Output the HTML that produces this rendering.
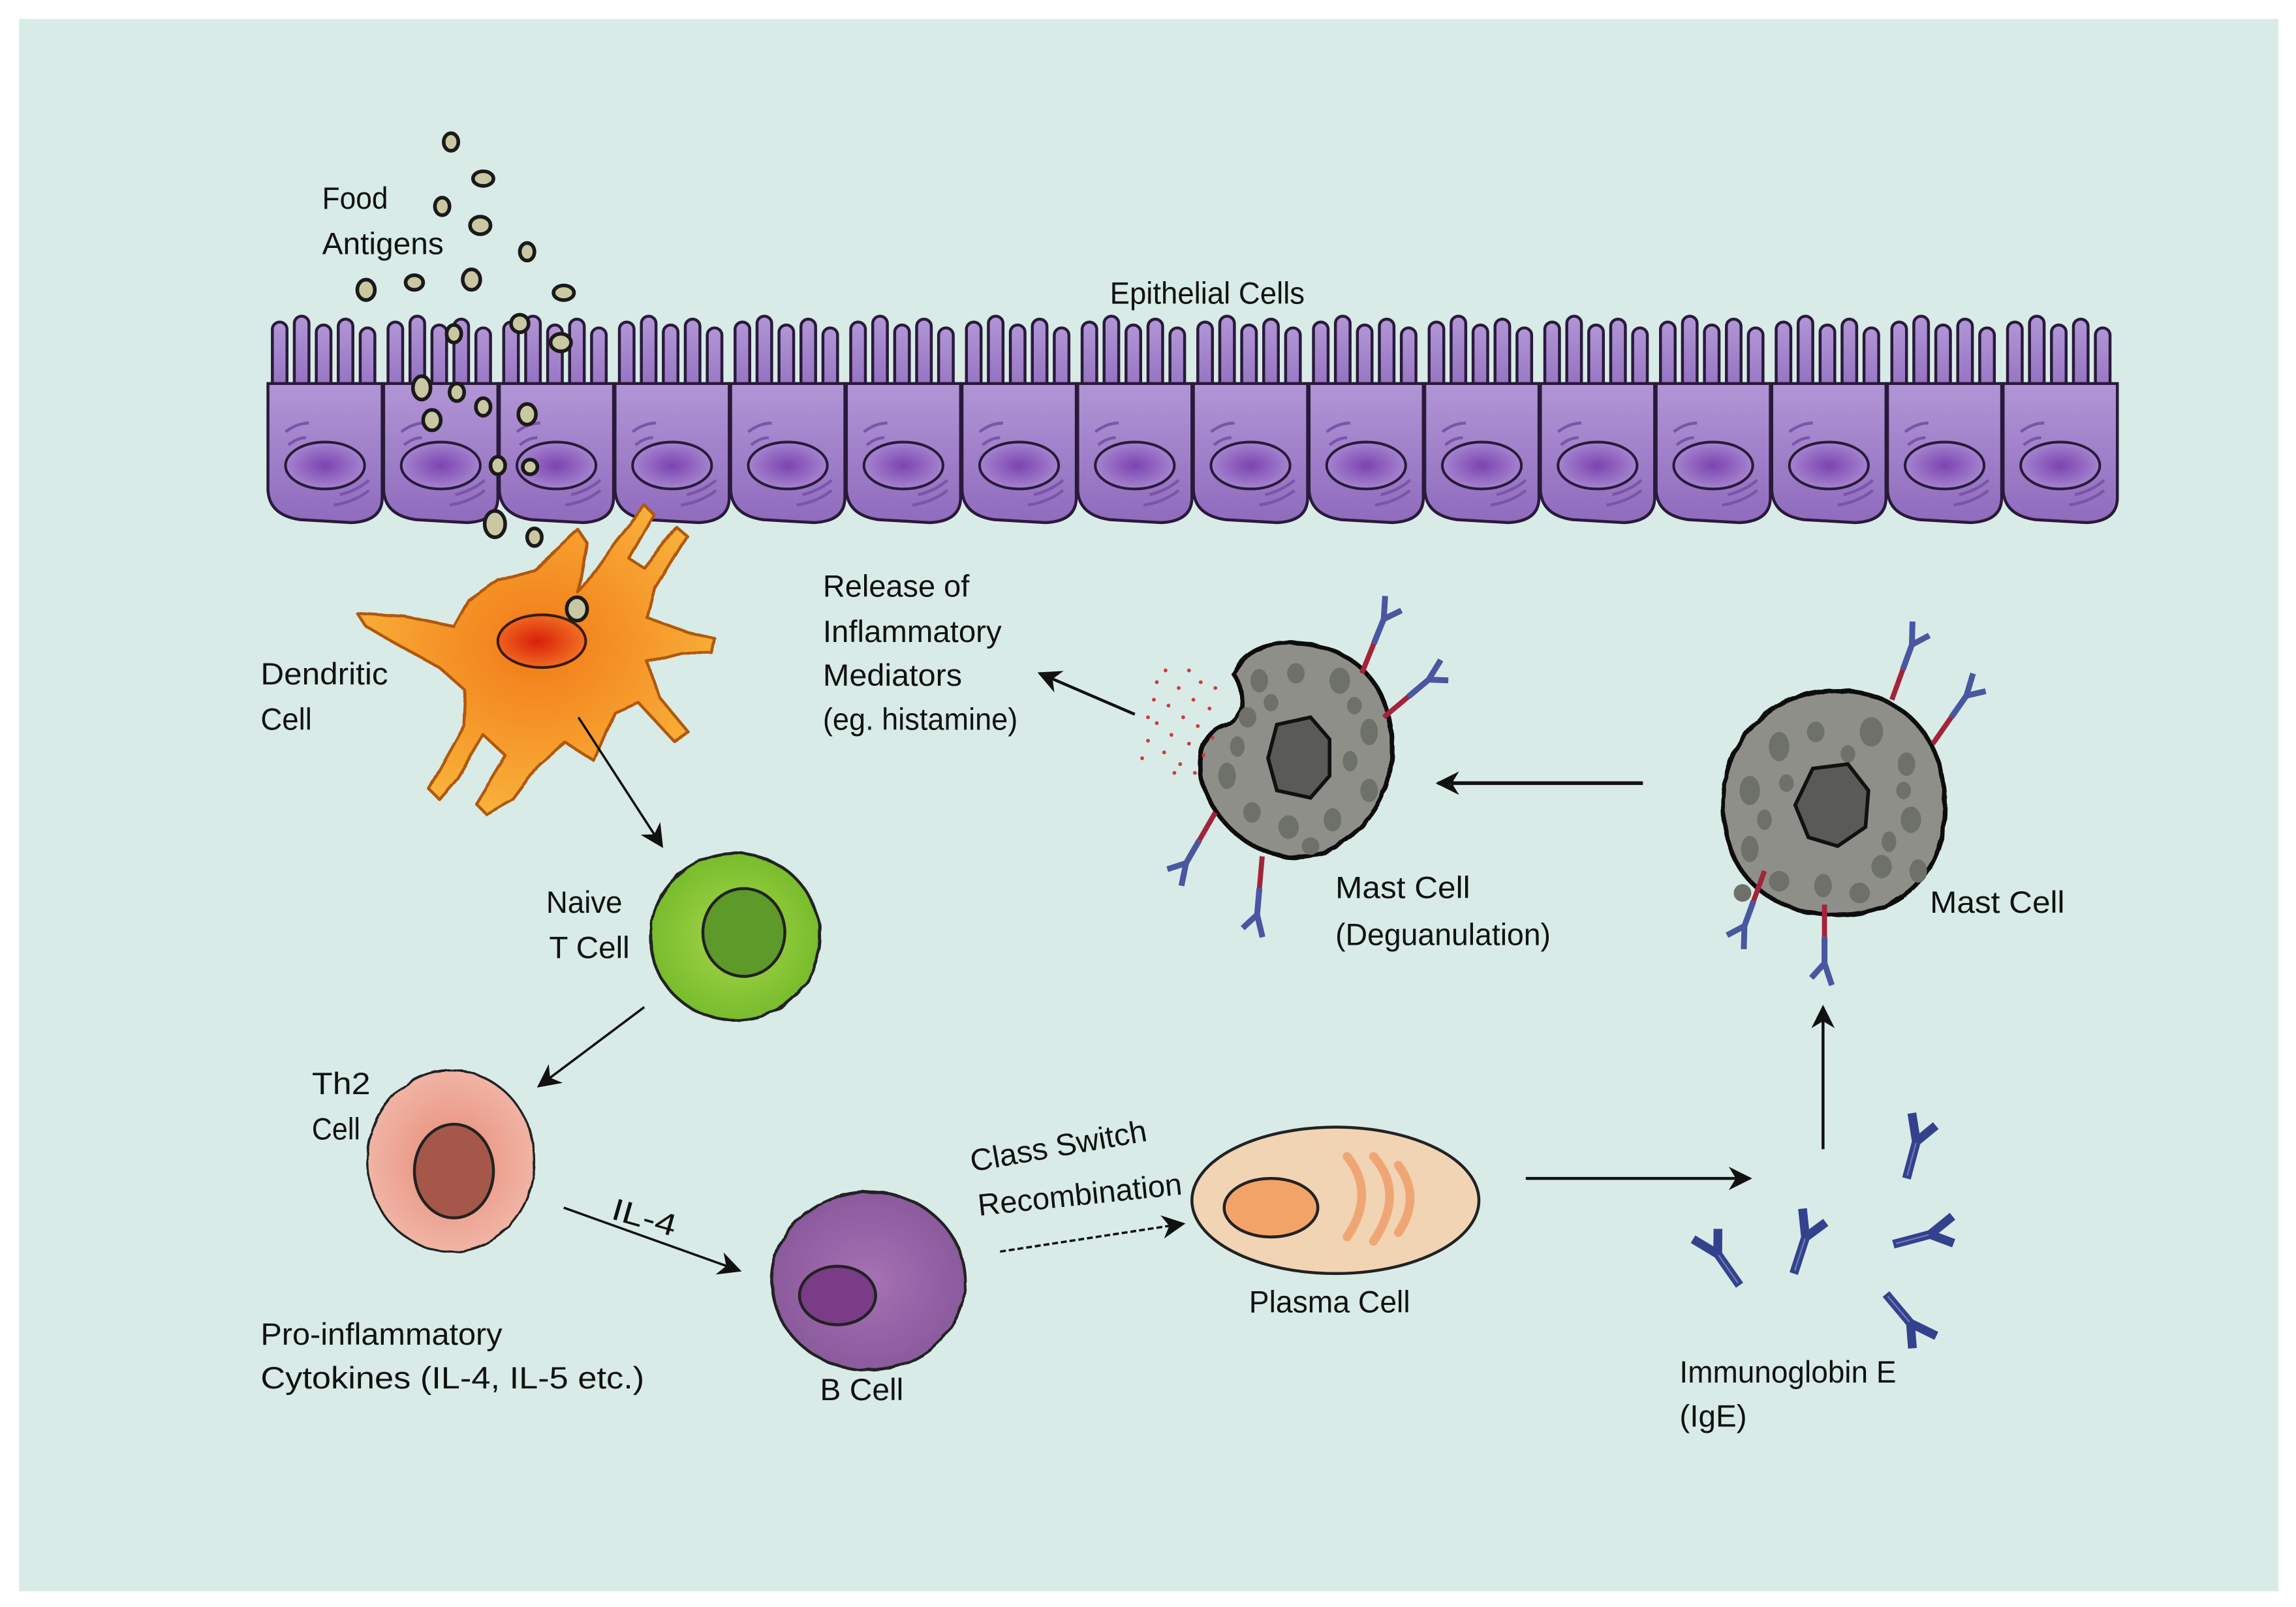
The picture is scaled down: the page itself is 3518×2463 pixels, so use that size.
<!DOCTYPE html>
<html><head><meta charset="utf-8"><style>
html,body{margin:0;padding:0;background:#fff;}
svg{display:block;}
text{font-family:"Liberation Sans",sans-serif;font-size:21px;fill:#111;}
</style></head><body>
<svg width="3518" height="2463" viewBox="0 0 1568 1097.8" preserveAspectRatio="none" xmlns="http://www.w3.org/2000/svg">
<defs>
<filter id="rough" x="-10%" y="-10%" width="120%" height="120%">
<feTurbulence type="fractalNoise" baseFrequency="0.08" numOctaves="2" seed="3"/>
<feDisplacementMap in="SourceGraphic" scale="2.5"/>
</filter>
<filter id="rough2" x="-10%" y="-10%" width="120%" height="120%">
<feTurbulence type="fractalNoise" baseFrequency="0.05" numOctaves="1" seed="5"/>
<feDisplacementMap in="SourceGraphic" scale="3"/>
</filter>
<linearGradient id="epi" x1="0" y1="0" x2="0" y2="1">
<stop offset="0" stop-color="#b196d6"/><stop offset="1" stop-color="#8f6bbd"/>
</linearGradient>
<radialGradient id="nuc" cx="0.5" cy="0.5" r="0.5">
<stop offset="0" stop-color="#7b44b0"/><stop offset="1" stop-color="#a584cf"/>
</radialGradient>
<radialGradient id="dc" cx="0.5" cy="0.45" r="0.55">
<stop offset="0" stop-color="#f27a18"/><stop offset="1" stop-color="#f8b13a"/>
</radialGradient>
<radialGradient id="dcn" cx="0.45" cy="0.5" r="0.5">
<stop offset="0" stop-color="#d8200a"/><stop offset="1" stop-color="#f06a20"/>
</radialGradient>
<radialGradient id="tg" cx="0.5" cy="0.5" r="0.5">
<stop offset="0" stop-color="#a6d84a"/><stop offset="1" stop-color="#78bc2c"/>
</radialGradient>
<radialGradient id="th" cx="0.5" cy="0.5" r="0.5">
<stop offset="0" stop-color="#e88a78"/><stop offset="1" stop-color="#f0b4a4"/>
</radialGradient>
<radialGradient id="bc" cx="0.5" cy="0.5" r="0.5">
<stop offset="0" stop-color="#a672b4"/><stop offset="1" stop-color="#8a5a9c"/>
</radialGradient>
<marker id="ahb" viewBox="0 0 10 10" refX="9" refY="5" markerWidth="16" markerHeight="16" orient="auto" markerUnits="userSpaceOnUse">
<path d="M0,0 L10,5 L0,10 L3,5 Z" fill="#111"/>
</marker>
<g id="ab">
<line x1="0" y1="0" x2="0" y2="-26" stroke="#34418c" stroke-width="6"/>
<line x1="0" y1="-2" x2="0" y2="-25" stroke="#6f7bb8" stroke-width="1"/>
<line x1="0" y1="-26" x2="-8" y2="-44" stroke="#34418c" stroke-width="6"/>
<line x1="0" y1="-26" x2="10" y2="-40" stroke="#34418c" stroke-width="6"/>
</g>
<g id="abm">
<line x1="0" y1="0" x2="0" y2="-22" stroke="#a3243a" stroke-width="3.5"/>
<line x1="0" y1="-22" x2="0" y2="-40" stroke="#4a56a0" stroke-width="4"/>
<line x1="0" y1="-40" x2="-5" y2="-55" stroke="#4a56a0" stroke-width="4"/>
<line x1="0" y1="-40" x2="9" y2="-50" stroke="#4a56a0" stroke-width="4"/>
</g>
</defs>

<rect x="13" y="13" width="1543" height="1074" fill="#d8ebe7"/>

<!-- epithelial cells -->
<g stroke="#2a1a3a" stroke-width="2" fill="url(#epi)">
<g id="ec">
<rect x="186" y="220" width="10" height="55" rx="5"/>
<rect x="201" y="216" width="10" height="55" rx="5"/>
<rect x="216" y="222" width="10" height="55" rx="5"/>
<rect x="231" y="218" width="10" height="55" rx="5"/>
<rect x="246" y="224" width="10" height="55" rx="5"/>
<path d="M183,262 L183,335 Q184,352 205,355 L240,357 Q261,356 261,340 L261,262 Z"/>
<ellipse cx="222" cy="318" rx="27" ry="16" fill="url(#nuc)" stroke-width="1.8"/>
<path d="M195,295 q8,-6 16,-6 M197,304 q6,-5 12,-5 M228,345 q14,-2 24,-10 M232,338 q12,-3 20,-10" fill="none" stroke="#7a55a8" stroke-width="2"/>
</g>
<use href="#ec" x="79"/><use href="#ec" x="158"/><use href="#ec" x="237"/><use href="#ec" x="316"/>
<use href="#ec" x="395"/><use href="#ec" x="474"/><use href="#ec" x="553"/><use href="#ec" x="632"/>
<use href="#ec" x="711"/><use href="#ec" x="790"/><use href="#ec" x="869"/><use href="#ec" x="948"/>
<use href="#ec" x="1027"/><use href="#ec" x="1106"/><use href="#ec" x="1185"/>
</g>

<!-- food antigens -->
<g fill="#c9c8a2" stroke="#1a1a1a" stroke-width="2.5">
<ellipse cx="308" cy="97" rx="5" ry="6"/><ellipse cx="330" cy="122" rx="7" ry="5"/>
<ellipse cx="302" cy="141" rx="5" ry="6"/><ellipse cx="328" cy="154" rx="7" ry="6"/>
<ellipse cx="360" cy="172" rx="5" ry="6"/><ellipse cx="250" cy="198" rx="6" ry="7"/>
<ellipse cx="283" cy="193" rx="6" ry="5"/><ellipse cx="322" cy="191" rx="6" ry="7"/>
<ellipse cx="385" cy="200" rx="7" ry="5"/><ellipse cx="310" cy="228" rx="5" ry="6"/>
<ellipse cx="355" cy="221" rx="6" ry="6"/><ellipse cx="383" cy="234" rx="7" ry="6"/>
<ellipse cx="288" cy="265" rx="6" ry="8"/><ellipse cx="312" cy="268" rx="5" ry="6"/>
<ellipse cx="295" cy="287" rx="6" ry="7"/><ellipse cx="330" cy="278" rx="5" ry="6"/>
<ellipse cx="360" cy="283" rx="6" ry="7"/><ellipse cx="340" cy="318" rx="5" ry="6"/>
<ellipse cx="362" cy="319" rx="5" ry="5"/><ellipse cx="338" cy="358" rx="7" ry="9"/>
<ellipse cx="365" cy="367" rx="5" ry="6"/>
</g>

<!-- dendritic cell -->
<path filter="url(#rough2)" d="M395,405 L420,370 L440,345 L447,352 L430,382 L440,388 L462,360 L469,366 L447,402 L442,422 L470,432 L488,436 L486,446 L465,446 L442,452 L450,476 L470,500 L460,506 L436,480 L420,487 L406,520 L386,507 L368,522 L350,546 L332,556 L325,549 L345,516 L330,502 L312,532 L300,546 L293,539 L317,496 L318,472 L300,456 L275,442 L250,428 L244,419 L276,421 L310,428 L320,410 L340,396 L365,389 L380,376 L395,362 L401,371 Z" fill="url(#dc)" stroke="#b0580c" stroke-width="2" stroke-linejoin="round"/>
<ellipse cx="370" cy="438" rx="30" ry="18" fill="url(#dcn)" stroke="#3a1a0a" stroke-width="1.8"/>
<ellipse cx="394" cy="416" rx="7" ry="8" fill="#c9c8a2" stroke="#1a1a1a" stroke-width="2.5"/>

<!-- naive T -->
<ellipse cx="502" cy="640" rx="58" ry="57" fill="url(#tg)" stroke="#222" stroke-width="2" filter="url(#rough)"/>
<ellipse cx="508" cy="637" rx="28" ry="30" fill="#5e9a2a" stroke="#222" stroke-width="2"/>

<!-- Th2 -->
<ellipse cx="308" cy="793" rx="57" ry="62" fill="url(#th)" stroke="#222" stroke-width="1.5" filter="url(#rough)"/>
<ellipse cx="310" cy="800" rx="27" ry="32" fill="#a5584a" stroke="#222" stroke-width="2"/>

<!-- B cell -->
<ellipse cx="593" cy="875" rx="66" ry="61" fill="url(#bc)" stroke="#222" stroke-width="2" filter="url(#rough)"/>
<ellipse cx="572" cy="885" rx="26" ry="20" fill="#7a3c86" stroke="#222" stroke-width="2"/>

<!-- Plasma cell -->
<ellipse cx="912" cy="820" rx="98" ry="50" fill="#f0d4b4" stroke="#222" stroke-width="2"/>
<ellipse cx="868" cy="825" rx="32" ry="20" fill="#f2a468" stroke="#222" stroke-width="2"/>
<g fill="none" stroke="#f0a674" stroke-width="6" stroke-linecap="round">
<path d="M920,790 q20,25 0,55"/><path d="M938,790 q22,25 0,58"/><path d="M955,796 q16,22 0,46"/>
</g>

<!-- mast cell right -->
<g filter="url(#rough)">
<path d="M1255,472 C1300,472 1328,505 1328,548 C1330,595 1300,625 1255,625 C1210,625 1177,598 1177,552 C1176,510 1205,472 1255,472 Z" fill="#8e8f89" stroke="#111" stroke-width="3"/>
</g>
<g fill="#6e706a">
<ellipse cx="1215" cy="510" rx="7" ry="10"/><ellipse cx="1240" cy="500" rx="6" ry="7"/><ellipse cx="1278" cy="500" rx="8" ry="10"/>
<ellipse cx="1302" cy="522" rx="6" ry="8"/><ellipse cx="1195" cy="540" rx="7" ry="10"/><ellipse cx="1220" cy="535" rx="5" ry="6"/>
<ellipse cx="1305" cy="560" rx="7" ry="9"/><ellipse cx="1285" cy="592" rx="7" ry="8"/><ellipse cx="1195" cy="580" rx="6" ry="9"/>
<ellipse cx="1215" cy="602" rx="7" ry="7"/><ellipse cx="1245" cy="605" rx="6" ry="8"/><ellipse cx="1270" cy="610" rx="7" ry="7"/>
<ellipse cx="1300" cy="540" rx="5" ry="6"/><ellipse cx="1190" cy="610" rx="6" ry="6"/><ellipse cx="1262" cy="515" rx="5" ry="6"/>
<ellipse cx="1310" cy="595" rx="6" ry="8"/><ellipse cx="1205" cy="560" rx="5" ry="7"/><ellipse cx="1290" cy="575" rx="5" ry="7"/>
</g>
<path d="M1238,525 L1262,522 L1276,540 L1274,565 L1255,578 L1235,572 L1226,550 Z" fill="#5a5b56" stroke="#111" stroke-width="2.5"/>
<use href="#abm" transform="translate(1292,478) rotate(20)"/>
<use href="#abm" transform="translate(1320,508) rotate(35)"/>
<use href="#abm" transform="translate(1205,595) rotate(-160)"/>
<use href="#abm" transform="translate(1246,618) rotate(180)"/>

<!-- mast cell left -->
<g filter="url(#rough)">
<path d="M870,440 C910,435 945,455 950,500 C955,545 930,575 895,585 C865,590 835,570 823,540 C815,520 820,500 838,495 C848,490 853,475 842,460 C848,448 858,442 870,440 Z" fill="#8e8f89" stroke="#111" stroke-width="3"/>
</g>
<g fill="#6e706a">
<ellipse cx="860" cy="465" rx="6" ry="8"/><ellipse cx="885" cy="460" rx="6" ry="7"/><ellipse cx="915" cy="465" rx="7" ry="9"/>
<ellipse cx="935" cy="500" rx="6" ry="9"/><ellipse cx="852" cy="490" rx="6" ry="7"/><ellipse cx="838" cy="530" rx="6" ry="9"/>
<ellipse cx="855" cy="555" rx="6" ry="7"/><ellipse cx="880" cy="565" rx="7" ry="8"/><ellipse cx="910" cy="560" rx="6" ry="8"/>
<ellipse cx="935" cy="540" rx="6" ry="8"/><ellipse cx="868" cy="480" rx="5" ry="6"/><ellipse cx="925" cy="482" rx="5" ry="6"/>
<ellipse cx="895" cy="578" rx="6" ry="6"/><ellipse cx="845" cy="510" rx="5" ry="7"/><ellipse cx="922" cy="520" rx="5" ry="7"/>
</g>
<path d="M872,495 L895,490 L908,505 L908,530 L895,545 L872,540 L866,518 Z" fill="#5a5b56" stroke="#111" stroke-width="2.5"/>
<use href="#abm" transform="translate(930,460) rotate(22)"/>
<use href="#abm" transform="translate(945,490) rotate(50)"/>
<use href="#abm" transform="translate(830,555) rotate(-150)"/>
<use href="#abm" transform="translate(862,585) rotate(-175)"/>
<g fill="#d23a3a">
<circle cx="812" cy="458" r="1.3"/><circle cx="820" cy="466" r="1.3"/><circle cx="805" cy="470" r="1.3"/><circle cx="815" cy="478" r="1.3"/>
<circle cx="798" cy="482" r="1.3"/><circle cx="826" cy="484" r="1.3"/><circle cx="808" cy="490" r="1.3"/><circle cx="790" cy="494" r="1.3"/>
<circle cx="818" cy="496" r="1.3"/><circle cx="800" cy="502" r="1.3"/><circle cx="784" cy="506" r="1.3"/><circle cx="812" cy="508" r="1.3"/>
<circle cx="795" cy="514" r="1.3"/><circle cx="822" cy="516" r="1.3"/><circle cx="780" cy="518" r="1.3"/><circle cx="806" cy="522" r="1.3"/>
<circle cx="790" cy="466" r="1.3"/><circle cx="830" cy="470" r="1.3"/><circle cx="788" cy="478" r="1.3"/><circle cx="828" cy="504" r="1.3"/>
<circle cx="796" cy="458" r="1.3"/><circle cx="784" cy="490" r="1.3"/><circle cx="802" cy="528" r="1.3"/><circle cx="816" cy="528" r="1.3"/>
</g>

<!-- free IgE -->
<use href="#ab" transform="translate(1188,878) rotate(-35)"/>
<use href="#ab" transform="translate(1225,870) rotate(18)"/>
<use href="#ab" transform="translate(1302,805) rotate(15)"/>
<use href="#ab" transform="translate(1293,850) rotate(75)"/>
<use href="#ab" transform="translate(1288,884) rotate(140)"/>

<!-- arrows -->
<g stroke="#111" stroke-width="1.6" fill="none">
<line x1="395" y1="490" x2="452" y2="578" marker-end="url(#ahb)"/>
<line x1="440" y1="688" x2="368" y2="742" marker-end="url(#ahb)"/>
<line x1="385" y1="825" x2="505" y2="868" marker-end="url(#ahb)"/>
<line x1="683" y1="855" x2="808" y2="836" stroke-dasharray="4 2" marker-end="url(#ahb)"/>
<line x1="1042" y1="805" x2="1195" y2="805" stroke-width="2" marker-end="url(#ahb)"/>
<line x1="1245" y1="785" x2="1245" y2="688" stroke-width="2" marker-end="url(#ahb)"/>
<line x1="1122" y1="535" x2="982" y2="535" stroke-width="2.5" marker-end="url(#ahb)"/>
<line x1="775" y1="488" x2="710" y2="460" stroke-width="2" marker-end="url(#ahb)"/>
</g>

<!-- labels -->
<g dominant-baseline="middle">
<text x="220" y="137" textLength="45" lengthAdjust="spacingAndGlyphs">Food</text>
<text x="220" y="168" textLength="83" lengthAdjust="spacingAndGlyphs">Antigens</text>
<text x="758" y="202" textLength="133" lengthAdjust="spacingAndGlyphs">Epithelial Cells</text>
<text x="178" y="462" textLength="87" lengthAdjust="spacingAndGlyphs">Dendritic</text>
<text x="178" y="493" textLength="35" lengthAdjust="spacingAndGlyphs">Cell</text>
<text x="373" y="618" textLength="52" lengthAdjust="spacingAndGlyphs">Naive</text>
<text x="375" y="649" textLength="55" lengthAdjust="spacingAndGlyphs">T Cell</text>
<text x="213" y="742" textLength="40" lengthAdjust="spacingAndGlyphs">Th2</text>
<text x="213" y="773" textLength="33" lengthAdjust="spacingAndGlyphs">Cell</text>
<text x="0" y="0" transform="translate(418,827) rotate(16)" textLength="45" lengthAdjust="spacingAndGlyphs">IL-4</text>
<text x="178" y="913" textLength="165" lengthAdjust="spacingAndGlyphs">Pro-inflammatory</text>
<text x="178" y="943" textLength="262" lengthAdjust="spacingAndGlyphs">Cytokines (IL-4, IL-5 etc.)</text>
<text x="560" y="951" textLength="57" lengthAdjust="spacingAndGlyphs">B Cell</text>
<text x="0" y="0" transform="translate(663,795) rotate(-10)" textLength="122" lengthAdjust="spacingAndGlyphs">Class Switch</text>
<text x="0" y="0" transform="translate(668,825) rotate(-6)" textLength="140" lengthAdjust="spacingAndGlyphs">Recombination</text>
<text x="853" y="891" textLength="110" lengthAdjust="spacingAndGlyphs">Plasma Cell</text>
<text x="1147" y="939" textLength="148" lengthAdjust="spacingAndGlyphs">Immunoglobin E</text>
<text x="1147" y="969" textLength="46" lengthAdjust="spacingAndGlyphs">(IgE)</text>
<text x="1318" y="618" textLength="92" lengthAdjust="spacingAndGlyphs">Mast Cell</text>
<text x="912" y="608" textLength="92" lengthAdjust="spacingAndGlyphs">Mast Cell</text>
<text x="912" y="640" textLength="147" lengthAdjust="spacingAndGlyphs">(Deguanulation)</text>
<text x="562" y="402" textLength="100" lengthAdjust="spacingAndGlyphs">Release of</text>
<text x="562" y="433" textLength="122" lengthAdjust="spacingAndGlyphs">Inflammatory</text>
<text x="562" y="463" textLength="95" lengthAdjust="spacingAndGlyphs">Mediators</text>
<text x="562" y="493" textLength="133" lengthAdjust="spacingAndGlyphs">(eg. histamine)</text>
</g>
</svg>
</body></html>
